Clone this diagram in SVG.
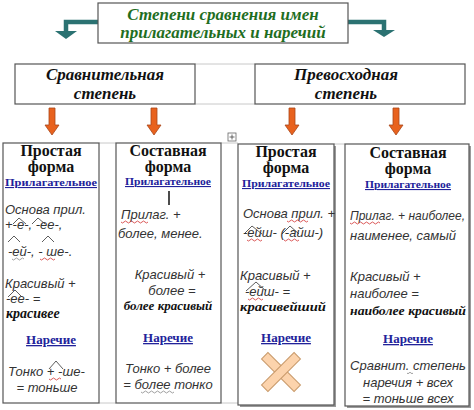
<svg xmlns="http://www.w3.org/2000/svg" width="474" height="410" viewBox="0 0 474 410">
<style>
.box{fill:#fff;stroke:#555;stroke-width:1.2}
.shadow{fill:#9a9a9a}
.title{font-family:"Liberation Serif",serif;font-style:italic;font-weight:bold;font-size:17px;fill:#1f6e1f;text-anchor:middle}
.deg{font-family:"Liberation Serif",serif;font-style:italic;font-weight:bold;font-size:17px;fill:#111;text-anchor:middle}
.head{font-family:"Liberation Serif",serif;font-weight:bold;font-size:16px;fill:#111;text-anchor:middle}
.pos{font-family:"Liberation Serif",serif;font-weight:bold;font-size:11px;fill:#22229a;text-anchor:middle;text-decoration:underline}
.adv{font-family:"Liberation Serif",serif;font-weight:bold;font-size:13px;fill:#22229a;text-anchor:middle;text-decoration:underline}
.hw{font-family:"Liberation Sans",sans-serif;font-style:italic;font-size:13px;fill:#333}
.hwb{font-family:"Liberation Serif",serif;font-style:italic;font-weight:bold;font-size:13px;fill:#111}
.mid{text-anchor:middle}
.arch{fill:none;stroke:#333;stroke-width:0.8}
.wavy{fill:none;stroke:#d03030;stroke-width:0.8}
.wavyg{fill:none;stroke:#888;stroke-width:0.8}
.teal{fill:none;stroke:#2b7272;stroke-width:4.5}
.tealh{fill:#2b7272}
.orange{fill:#e8621e;stroke:#a8461a;stroke-width:0.8}
.grid{stroke:#c8c8c8;stroke-width:1;fill:none}
</style>
<defs>
<path id="oarrow" d="M-3,0 H3 V17 H7 L0,27 L-7,17 H-3 Z"/>
</defs>

<g id="connectors">
  <path class="teal" d="M98,22 H66 V31"/>
  <polygon class="tealh" points="55,31 77,31 66,39"/>
  <path class="teal" d="M348,22 H384 V30"/>
  <polygon class="tealh" points="373,30 395,30 384,37"/>
  <use href="#oarrow" class="orange" x="52" y="108"/>
  <use href="#oarrow" class="orange" x="154" y="108"/>
  <use href="#oarrow" class="orange" x="292" y="108"/>
  <use href="#oarrow" class="orange" x="396" y="108"/>
  <path class="grid" d="M195,64 H255 M195,104 H255"/>
  <path class="grid" d="M99,143 H116 M221,143 H238 M334,144 H345 M99,403 H116 M221,403 H238"/>
</g>

<g id="title">
  <rect class="box" x="98" y="3" width="250" height="40"/>
  <text class="title" x="223" y="20">Степени сравнения имен</text>
  <text class="title" x="223" y="38">прилагательных и наречий</text>
</g>

<g id="comparative">
  <rect class="box" x="15" y="64" width="180" height="40"/>
  <text class="deg" x="105" y="80">Сравнительная</text>
  <text class="deg" x="105" y="99">степень</text>
</g>

<g id="superlative">
  <rect class="box" x="255" y="64" width="210" height="40"/>
  <text class="deg" x="346" y="80">Превосходная</text>
  <text class="deg" x="346" y="99">степень</text>
</g>

<g id="table-handle">
  <rect x="228" y="133" width="8" height="8" fill="#fff" stroke="#666" stroke-width="0.8"/>
  <path d="M232,134.5 V139.5 M229.5,137 H234.5" stroke="#444" stroke-width="0.8"/>
</g>

<g id="comp-simple">
  <rect class="box" x="3" y="143" width="96" height="260"/>
  <text class="head" x="51" y="156">Простая</text>
  <text class="head" x="51" y="172">форма</text>
  <text class="pos" x="51" y="186" textLength="92" lengthAdjust="spacingAndGlyphs">Прилагательное</text>
  <text class="hw" x="5" y="214">Основа прил.</text>
  <text class="hw" x="5" y="229">+-е-, -ее-,</text>
  <path class="arch" d="M13,224 L19,218 L26,224 M32,224 L38,218 L45,224"/>
  <path class="arch" d="M8,242 L14,236 L20,242 M42,242 L48,236 L54,242"/>
  <text class="hw" x="8" y="256">-ей-, - ше-.</text>
  <path class="wavy" d="M40,259 q1.5,2 3,0 t3,0 t3,0 t3,0 t3,0"/>
  <path class="wavyg" d="M12,259 q1.5,2 3,0 t3,0 t3,0 t3,0"/>
  <text class="hw" x="5" y="288">Красивый +</text>
  <path class="arch" d="M8,297 L15,290 L22,297"/>
  <text class="hw" x="6" y="303">-ее- =</text>
  <text class="hwb" x="6" y="318" style="font-size:14px">красивее</text>
  <text class="adv" x="51" y="344">Наречие</text>
  <text class="hw" x="8" y="376">Тонко  + -ше-</text>
  <path class="arch" d="M49,369 L56,361 L63,369"/>
  <path class="wavy" d="M49,379 q1.5,2 3,0 t3,0 t3,0 t3,0"/>
  <text class="hw mid" x="47" y="392">= тоньше</text>
</g>

<g id="comp-compound">
  <rect class="box" x="116" y="143" width="105" height="260"/>
  <text class="head" x="168" y="156">Составная</text>
  <text class="head" x="168" y="172">форма</text>
  <text class="pos" x="168" y="185" textLength="86" lengthAdjust="spacingAndGlyphs">Прилагательное</text>
  <path d="M169,191 V205" stroke="#111" stroke-width="1.5"/>
  <text class="hw" x="121" y="219">Прилаг. +</text>
  <path class="wavy" d="M121,222 q1.5,2 3,0 t3,0 t3,0 t3,0 t3,0 t3,0 t3,0 t3,0 t3,0"/>
  <text class="hw" x="118" y="238">более, менее.</text>
  <text class="hw mid" x="170" y="279">Красивый +</text>
  <text class="hw mid" x="172" y="295">более =</text>
  <text class="hwb mid" x="168" y="310">более красивый</text>
  <text class="adv" x="168" y="342">Наречие</text>
  <text class="hw mid" x="168" y="373">Тонко + более</text>
  <text class="hw mid" x="168" y="389">= более тонко</text>
  <path class="wavyg" d="M141,392 q1.5,2 3,0 t3,0 t3,0 t3,0 t3,0 t3,0 t3,0 t3,0 t3,0 t3,0 t3,0"/>
</g>

<g id="sup-simple">
  <rect class="shadow" x="240" y="146" width="96" height="261"/>
  <rect class="box" x="238" y="144" width="96" height="261"/>
  <text class="head" x="286" y="157">Простая</text>
  <text class="head" x="286" y="173">форма</text>
  <text class="pos" x="286" y="187" textLength="88" lengthAdjust="spacingAndGlyphs">Прилагательное</text>
  <text class="hw" x="243" y="218">Основа прил. +</text>
  <path class="wavy" d="M287,221 q1.5,2 3,0 t3,0 t3,0 t3,0 t3,0 t3,0 t3,0"/>
  <text class="hw" x="243" y="237">-ейш- (-айш-)</text>
  <path class="arch" d="M244,234 L252,226 L262,234 M282,234 L290,226 L299,234"/>
  <path class="wavy" d="M247,240 q1.5,2 3,0 t3,0 t3,0 t3,0 t3,0 M284,240 q1.5,2 3,0 t3,0 t3,0 t3,0 t3,0"/>
  <text class="hw" x="240" y="280">Красивый +</text>
  <path class="arch" d="M246,291 L256,282 L266,291"/>
  <text class="hw" x="245" y="296">-ейш- =</text>
  <path class="wavy" d="M248,299 q1.5,2 3,0 t3,0 t3,0 t3,0 t3,0"/>
  <text class="hwb" x="240" y="311" textLength="86" lengthAdjust="spacingAndGlyphs">красивейший</text>
  <text class="adv" x="286" y="342">Наречие</text>
  <g transform="translate(281,372)">
    <rect x="-23" y="-4.5" width="46" height="9" transform="rotate(45)" fill="#fcd3ac" stroke="#c99a6a" stroke-width="1"/>
    <rect x="-23" y="-4.5" width="46" height="9" transform="rotate(-45)" fill="#fcd3ac" stroke="#c99a6a" stroke-width="1"/>
  </g>
</g>

<g id="sup-compound">
  <rect class="shadow" x="347" y="146" width="124" height="262"/>
  <rect class="box" x="345" y="144" width="124" height="262"/>
  <text class="head" x="408" y="158">Составная</text>
  <text class="head" x="408" y="174">форма</text>
  <text class="pos" x="408" y="188" textLength="86" lengthAdjust="spacingAndGlyphs">Прилагательное</text>
  <text class="hw" x="350" y="220" textLength="115" lengthAdjust="spacingAndGlyphs">Прилаг. + наиболее,</text>
  <path class="wavy" d="M350,223 q1.5,2 3,0 t3,0 t3,0 t3,0 t3,0 t3,0 t3,0 t3,0 t3,0 t3,0"/>
  <text class="hw" x="350" y="240">наименее, самый</text>
  <text class="hw" x="350" y="281">Красивый +</text>
  <text class="hw" x="350" y="298">наиболее =</text>
  <text class="hwb" x="350" y="315" textLength="116" lengthAdjust="spacingAndGlyphs">наиболее красивый</text>
  <text class="adv" x="408" y="343">Наречие</text>
  <text class="hw mid" x="408" y="370">Сравнит. степень</text>
  <path class="wavyg" d="M407,373 q1,1.5 2,0 t2,0 t2,0"/>
  <text class="hw mid" x="408" y="387">наречия + всех</text>
  <text class="hw mid" x="408" y="403">= тоньше всех</text>
</g>
</svg>
